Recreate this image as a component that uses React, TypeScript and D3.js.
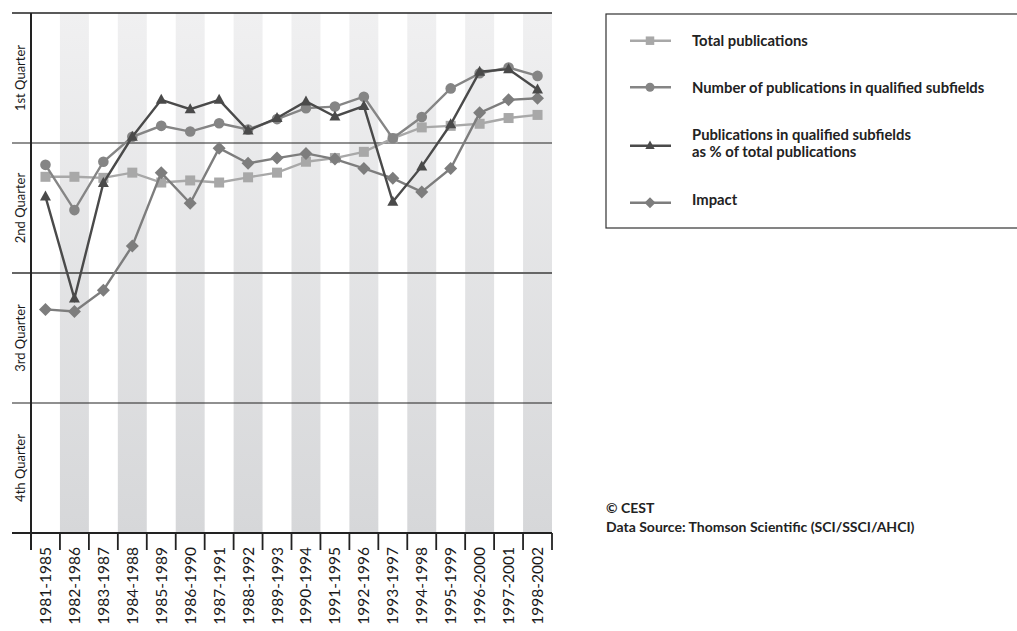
import React from "react";
import * as d3 from "d3";

const periods = ["1981-1985","1982-1986","1983-1987","1984-1988","1985-1989","1986-1990","1987-1991","1988-1992","1989-1993","1990-1994","1991-1995","1992-1996","1993-1997","1994-1998","1995-1999","1996-2000","1997-2001","1998-2002"];
// percentile position (0 = bottom of 4th quarter, 100 = top of 1st quarter)
const totalPublications = [68.5,68.5,68.3,69.3,67.4,67.8,67.4,68.4,69.3,71.4,72.1,73.3,75.9,78.0,78.3,78.7,79.8,80.4];
const qualifiedSubfields = [70.8,62.1,71.4,76.2,78.3,77.2,78.8,77.6,79.6,81.7,82.0,83.9,75.9,80.0,85.5,88.4,89.5,87.9];
const qualifiedShare = [64.7,45.1,67.3,76.2,83.3,81.5,83.3,77.4,79.8,83.0,80.1,82.1,63.7,70.5,78.6,88.7,89.2,85.3];
const impact = [43.0,42.6,46.7,55.2,69.3,63.4,74.0,71.1,72.1,73.0,71.9,70.1,68.2,65.6,70.1,80.8,83.3,83.6];
const quarterLabels = ["1st Quarter","2nd Quarter","3rd Quarter","4th Quarter"];
const quarterBounds = [100,75,50,25,0];

const FONT = "Lato, 'Open Sans', sans-serif";

type Series = { name: string[]; values: number[]; color: string; marker: string };
const series: Series[] = [
  { name: ["Total publications"], values: totalPublications, color: "#a8a8a8", marker: "square" },
  { name: ["Number of publications in qualified subfields"], values: qualifiedSubfields, color: "#858585", marker: "circle" },
  { name: ["Impact"], values: impact, color: "#7d7d7d", marker: "diamond" },
  { name: ["Publications in qualified subfields", "as % of total publications"], values: qualifiedShare, color: "#4a4a4a", marker: "triangle" },
];
const legendOrder = [0, 1, 3, 2];

const left = 31, right = 552, top = 13, bottom = 533;

function Marker({ type, x, y, color, s = 1 }: { type: string; x: number; y: number; color: string; s?: number }) {
  if (type === "square") return <rect x={x - 5 * s} y={y - 5 * s} width={10 * s} height={10 * s} fill={color} />;
  if (type === "circle") return <circle cx={x} cy={y} r={5.3 * s} fill={color} />;
  if (type === "diamond") return <path d={`M${x},${y - 6.5 * s}L${x + 6.5 * s},${y}L${x},${y + 6.5 * s}L${x - 6.5 * s},${y}Z`} fill={color} />;
  return <path d={`M${x},${y - 6 * s}L${x + 5.5 * s},${y + 4 * s}L${x - 5.5 * s},${y + 4 * s}Z`} fill={color} />;
}

export default function App() {
  const x = d3.scaleBand<string>().domain(periods).range([left, right]).padding(0);
  const y = d3.scaleLinear().domain([0, 100]).range([bottom, top]);
  const line = d3.line<number>().x((_, i) => (x(periods[i]) as number) + x.bandwidth() / 2).y(v => y(v));
  const legendY = [40.7, 87.3, 145.7, 202.7];
  const legendBase = [[45.7], [92.7], [140, 157], [204.5]];

  return (
    <svg width={1017} height={631} style={{ position: "absolute", left: 0, top: 0, fontFamily: FONT }}>
      <defs>
        <linearGradient id="band" x1="0" y1="0" x2="0" y2="1">
          <stop offset="0" stopColor="#f0f0f1" />
          <stop offset="1" stopColor="#d6d7d9" />
        </linearGradient>
      </defs>
      {periods.map((p, i) => i % 2 === 1 ? (
        <rect key={p} x={x(p)} y={top} width={x.bandwidth()} height={bottom - top} fill="url(#band)" />
      ) : null)}
      {quarterBounds.map((q, i) => (
        <line key={q} x1={12} x2={right} y1={y(q)} y2={y(q)}
          stroke={q === 50 ? "#666" : "#222"} strokeWidth={q === 0 ? 2.2 : q === 100 ? 1.6 : q === 50 ? 1.8 : 1.2} />
      ))}
      <line x1={left} x2={left} y1={top} y2={bottom + 17} stroke="#222" strokeWidth={2} />
      {periods.map((p, i) => (
        <line key={p} x1={(x(p) as number) + x.bandwidth()} x2={(x(p) as number) + x.bandwidth()} y1={bottom} y2={bottom + 17} stroke="#222" strokeWidth={1.8} />
      ))}
      {periods.map(p => {
        const cx = (x(p) as number) + x.bandwidth() / 2;
        return (
          <text key={p} transform={`translate(${cx + 5.5},${bottom + 14}) rotate(-90)`} textAnchor="end"
            fontSize={15.5} fill="#1a1a1a">{p}</text>
        );
      })}
      {quarterLabels.map((l, i) => {
        const cy = (y(quarterBounds[i]) + y(quarterBounds[i + 1])) / 2;
        return (
          <text key={l} transform={`translate(25,${cy}) rotate(-90)`} textAnchor="middle" fontSize={13} fill="#1a1a1a">{l}</text>
        );
      })}
      {series.map(s => (
        <g key={s.name[0]}>
          <path d={line(s.values) as string} fill="none" stroke={s.color} strokeWidth={2.4} />
          {s.values.map((v, i) => (
            <Marker key={i} type={s.marker} x={(x(periods[i]) as number) + x.bandwidth() / 2} y={y(v)} color={s.color} />
          ))}
        </g>
      ))}
      <rect x={606} y={14} width={420} height={214} fill="none" stroke="#333" strokeWidth={1.2} />
      {legendOrder.map((si, k) => {
        const s = series[si];
        const ly = legendY[k];
        return (
          <g key={k}>
            <line x1={630} x2={671} y1={ly} y2={ly} stroke={s.color} strokeWidth={2.4} />
            <Marker type={s.marker} x={650} y={ly} color={s.color} s={0.85} />
            {s.name.map((t, j) => (
              <text key={j} x={692} y={legendBase[k][j]} fontSize={14.8} fontWeight={700} fill="#222">{t}</text>
            ))}
          </g>
        );
      })}
      <text x={606} y={513} fontSize={14} fontWeight={700} fill="#222">© CEST</text>
      <text x={606} y={532} fontSize={14} fontWeight={700} fill="#222">Data Source: Thomson Scientific (SCI/SSCI/AHCI)</text>
    </svg>
  );
}
